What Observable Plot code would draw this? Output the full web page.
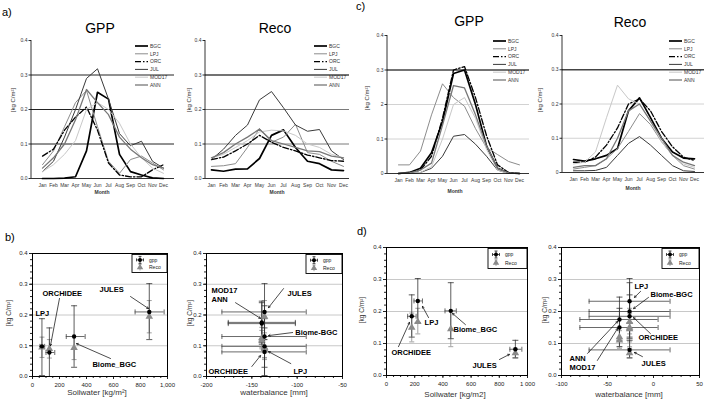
<!DOCTYPE html>
<html><head><meta charset="utf-8">
<script src="https://cdn.jsdelivr.net/npm/d3@7"></script>
<script src="https://cdn.jsdelivr.net/npm/@observablehq/plot@0.6"></script>
<style>
body{margin:0;background:#fff;font-family:'Liberation Sans',Arial,Helvetica,sans-serif}
#fig{position:relative;width:710px;height:400px;overflow:hidden;background:#fff}
#fig svg{position:absolute}
</style></head>
<body><div id="fig"></div>
<script>
// ---------- DATA ----------
const months = ["Jan","Feb","Mar","Apr","May","Jun","Jul","Aug","Sep","Oct","Nov","Dec"];
const models = ["BGC","LPJ","ORC","JUL","MOD17","ANN"];
// Panel a) GPP  (rows follow models order)
const aGpp = [
  [0.0,0.0,0.001,0.005,0.08,0.25,0.23,0.07,0.02,0.01,0.002,0.0],
  [0.04,0.08,0.15,0.22,0.255,0.15,0.05,0.015,0.055,0.065,0.045,0.025],
  [0.065,0.085,0.14,0.178,0.207,0.14,0.045,0.01,0.005,0.005,0.025,0.04],
  [0.02,0.05,0.12,0.2,0.29,0.318,0.23,0.13,0.095,0.108,0.05,0.03],
  [0.02,0.04,0.07,0.11,0.2,0.22,0.2,0.16,0.1,0.06,0.03,0.015],
  [0.03,0.06,0.1,0.17,0.258,0.22,0.185,0.12,0.085,0.06,0.04,0.03]
];
// Panel a) Reco
const aReco = [
  [0.025,0.021,0.027,0.028,0.058,0.125,0.141,0.09,0.05,0.043,0.025,0.023],
  [0.035,0.037,0.043,0.09,0.145,0.105,0.12,0.157,0.075,0.07,0.05,0.035],
  [0.055,0.062,0.08,0.1,0.125,0.105,0.09,0.08,0.068,0.06,0.052,0.05],
  [0.055,0.085,0.125,0.155,0.228,0.252,0.205,0.155,0.137,0.142,0.08,0.055],
  [0.06,0.07,0.09,0.11,0.135,0.14,0.138,0.125,0.1,0.09,0.07,0.06],
  [0.06,0.075,0.1,0.12,0.143,0.11,0.1,0.09,0.08,0.078,0.065,0.06]
];
// Panel c) GPP
const cGpp = [
  [0.0,0.003,0.015,0.06,0.15,0.29,0.3,0.2,0.08,0.015,0.002,0.0],
  [0.025,0.025,0.065,0.17,0.26,0.22,0.195,0.13,0.075,0.055,0.035,0.025],
  [0.0,0.002,0.01,0.05,0.16,0.3,0.31,0.22,0.11,0.025,0.003,0.0],
  [0.0,0.0,0.003,0.015,0.05,0.108,0.113,0.085,0.05,0.01,0.0,0.0],
  [0.0,0.0,0.003,0.02,0.1,0.2,0.22,0.16,0.07,0.01,0.0,0.0],
  [0.0,0.002,0.01,0.03,0.14,0.255,0.248,0.17,0.08,0.015,0.002,0.0]
];
// Panel c) Reco
const cReco = [
  [0.038,0.033,0.04,0.05,0.07,0.18,0.218,0.16,0.1,0.06,0.042,0.04],
  [0.01,0.015,0.02,0.04,0.07,0.12,0.172,0.14,0.09,0.05,0.02,0.01],
  [0.03,0.03,0.045,0.08,0.13,0.2,0.215,0.18,0.12,0.075,0.045,0.035],
  [0.005,0.005,0.006,0.015,0.05,0.085,0.105,0.08,0.05,0.02,0.005,0.003],
  [0.025,0.03,0.06,0.16,0.255,0.215,0.2,0.15,0.09,0.05,0.025,0.015],
  [0.015,0.02,0.02,0.04,0.1,0.18,0.2,0.15,0.1,0.05,0.03,0.02]
];
const aTickText = ["0.0","0.1","0.2","0.3","0.4"];
const cGppTickText = ["0","0.1","2","0.3","0.4"];
const cRecoTickText = ["0","0.1","0.2","0.3","0.4"];
const sTickText = ["0.0","0.1","0.2","0.3","0.4"];

// Panel b) soil water
const bSoilSite = ["LPJ","ORCHIDEE","Biome_BGC","JULES"];
const bSoilX = [70,125,308,865];
const bSoilXLo = [55,100,250,760];
const bSoilXHi = [90,165,390,975];
const bSoilGpp = [0.098,0.078,0.13,0.21];
const bSoilGppLo = [0.003,0.0,0.03,0.12];
const bSoilGppHi = [0.188,0.158,0.23,0.302];
const bSoilReco = [0.095,0.09,0.093,0.195];
const bSoilRecoLo = [0.062,0.06,0.055,0.142];
const bSoilRecoHi = [0.128,0.12,0.13,0.247];
// Panel b) water balance
const bWbSite = ["JULES","MOD17","ANN","Biome-BGC","LPJ","ORCHIDEE"];
const bWbX = [-136,-139,-139,-136,-136,-136];
const bWbXLo = [-183,-176,-176,-183,-183,-183];
const bWbXHi = [-90,-102,-102,-90,-90,-90];
const bWbGpp = [0.21,0.176,0.172,0.13,0.098,0.08];
const bWbGppLo = [0.12,0.11,0.105,0.03,0.003,0.0];
const bWbGppHi = [0.302,0.245,0.24,0.23,0.188,0.158];
const bWbReco = [0.195,0.118,0.125,0.093,0.095,0.09];
const bWbRecoLo = [0.142,0.09,0.095,0.055,0.062,0.06];
const bWbRecoHi = [0.247,0.15,0.16,0.13,0.128,0.12];
// Panel d) soil water
const dSoilSite = ["ORCHIDEE","LPJ","Biome_BGC","JULES"];
const dSoilX = [179,222,456,914];
const dSoilXLo = [150,195,415,875];
const dSoilXHi = [210,255,495,960];
const dSoilGpp = [0.185,0.233,0.202,0.082];
const dSoilGppLo = [0.12,0.165,0.115,0.055];
const dSoilGppHi = [0.252,0.303,0.29,0.11];
const dSoilReco = [0.15,0.168,0.145,0.07];
const dSoilRecoLo = [0.105,0.13,0.09,0.055];
const dSoilRecoHi = [0.195,0.21,0.2,0.085];
// Panel d) water balance
const dWbSite = ["LPJ","Biome-BGC","ORCHIDEE","ANN","MOD17","JULES"];
const dWbX = [-26,-26,-26,-37,-37,-26];
const dWbXLo = [-70,-70,-70,-80,-80,-70];
const dWbXHi = [18,18,18,5,5,18];
const dWbGpp = [0.232,0.2,0.185,0.175,0.15,0.08];
const dWbGppLo = [0.165,0.115,0.12,0.11,0.09,0.055];
const dWbGppHi = [0.303,0.29,0.252,0.245,0.21,0.11];
const dWbReco = [0.168,0.145,0.15,0.12,0.11,0.07];
const dWbRecoLo = [0.13,0.09,0.105,0.09,0.085,0.055];
const dWbRecoHi = [0.21,0.2,0.195,0.15,0.14,0.085];

// annotation labels (text, left x, y) and arrows (from -> to), in data units
const bSoilNotes = [{t:"LPJ",x:22,y:0.205},{t:"ORCHIDEE",x:74,y:0.27},{t:"JULES",x:496,y:0.283},{t:"Biome_BGC",x:444,y:0.039}];
const bSoilArrows = [{x1:200,y1:0.254,x2:133,y2:0.1},{x1:726,y1:0.26,x2:859,y2:0.221},{x1:578,y1:0.0585,x2:326,y2:0.107}];
const bWbNotes = [{t:"MOD17\nANN",x:-194.5,y:0.265},{t:"JULES",x:-110.7,y:0.27},{t:"Biome-BGC",x:-102,y:0.143},{t:"ORCHIDEE",x:-197.8,y:0.016},{t:"LPJ",x:-104,y:0.016}];
const bWbArrows = [{x1:-168,y1:0.24,x2:-140.4,y2:0.189},{x1:-115,y1:0.286,x2:-131.6,y2:0.224},{x1:-105,y1:0.143,x2:-131.6,y2:0.133},{x1:-150,y1:0.0325,x2:-140.4,y2:0.068},{x1:-107,y1:0.042,x2:-131.6,y2:0.081}];
const dSoilNotes = [{t:"LPJ",x:270,y:0.166},{t:"Biome_BGC",x:475,y:0.144},{t:"ORCHIDEE",x:35,y:0.072},{t:"JULES",x:610,y:0.034}];
const dSoilArrows = [{x1:298,y1:0.181,x2:255,y2:0.216},{x1:560,y1:0.159,x2:468,y2:0.194},{x1:85,y1:0.09,x2:163,y2:0.166},{x1:801,y1:0.05,x2:872,y2:0.066}];
const dWbNotes = [{t:"LPJ",x:-20.7,y:0.278},{t:"Biome-BGC",x:-3.3,y:0.253},{t:"ORCHIDEE",x:-16.3,y:0.119},{t:"ANN\nMOD17",x:-91.3,y:0.039},{t:"JULES",x:-13,y:0.0375}];
const dWbArrows = [{x1:-14,y1:0.263,x2:-20.7,y2:0.244},{x1:-5.4,y1:0.244,x2:-21.7,y2:0.209},{x1:-3.3,y1:0.131,x2:-21.7,y2:0.181},{x1:-71.7,y1:0.069,x2:-39,y2:0.169},{x1:-61,y1:0.047,x2:-39,y2:0.147},{x1:-12,y1:0.059,x2:-20.7,y2:0.072}];

// ---------- RENDER ----------
const fontFam = "'Liberation Sans', Arial, Helvetica, sans-serif";
const fig = document.getElementById("fig");

function addText(txt, x, y, o = {}) {
  const d = document.createElement("div");
  d.textContent = txt;
  Object.assign(d.style, {position:"absolute", left:x+"px", top:y+"px", whiteSpace:"nowrap", lineHeight:"1",
    fontSize:(o.size||10)+"px", fontWeight:o.bold?"bold":"normal", color:o.color||"#000"});
  let t = "translate(" + (o.anchor === "start" ? "0" : "-50%") + ",-50%)";
  if (o.rotate) t += " rotate(-90deg)";
  d.style.transform = t;
  fig.appendChild(d);
}
function place(svg, left, top) { svg.style.left = left+"px"; svg.style.top = top+"px"; fig.appendChild(svg); }

const lineStyle = {
  BGC:{stroke:"#000", strokeWidth:1.7},
  LPJ:{stroke:"#8c8c8c", strokeWidth:1},
  ORC:{stroke:"#000", strokeWidth:1.3, strokeDasharray:"6,2,1.5,2"},
  JUL:{stroke:"#3a3a3a", strokeWidth:1},
  MOD17:{stroke:"#c8c8c8", strokeWidth:1},
  ANN:{stroke:"#777", strokeWidth:1.3}
};

function linePanel(c) {
  const rows = models.flatMap((m,k) => c.series[k].map((v,i) => ({model:m, month:months[i], value:v})));
  const svg = Plot.plot({
    width:c.width, height:c.height, marginLeft:c.mL, marginRight:c.mR, marginTop:c.mT, marginBottom:c.mB,
    style:{fontFamily:fontFam, fontSize:"5px", color:"#333", background:"transparent", overflow:"visible"},
    x:{type:"point", domain:months, padding:0.5},
    y:{domain:[0,0.4]},
    marks:[
      ...c.grid.map(([v,col,w]) => Plot.ruleY([v], {stroke:col, strokeWidth:w})),
      ...models.map(m => Plot.line(rows.filter(r => r.model === m), {x:"month", y:"value", ...lineStyle[m]})),
      Plot.ruleY([0], {stroke:"#000", strokeWidth:0.8}),
      Plot.axisX({tickSize:0, tickPadding:5, label:null}),
      Plot.axisY({ticks:[0,0.1,0.2,0.3,0.4], tickFormat:d => c.tickText[Math.round(d*10)], tickSize:2.5, tickPadding:1.5, label:null})
    ]
  });
  const s = d3.select(svg);
  s.append("line").attr("x1",c.mL).attr("x2",c.mL).attr("y1",c.mT).attr("y2",c.height-c.mB).attr("stroke","#000").attr("stroke-width",0.8);
  const g = s.append("g").attr("font-family",fontFam).attr("font-size",5).attr("fill","#333").attr("text-anchor","start");
  models.forEach((m,i) => {
    const y = c.mT + 6 + i*7.8, x0 = c.mL + c.legX;
    const st = lineStyle[m];
    g.append("line").attr("x1",x0).attr("x2",x0+13).attr("y1",y).attr("y2",y)
      .attr("stroke",st.stroke).attr("stroke-width",st.strokeWidth).attr("stroke-dasharray",st.strokeDasharray||null);
    g.append("text").attr("x",x0+15).attr("y",y).attr("dy","0.35em").text(m);
  });
  place(svg, c.left, c.top);
}

const hcap = {draw(ctx,size){const r=Math.sqrt(size/Math.PI); ctx.moveTo(-r,0); ctx.lineTo(r,0);}};
const vcap = {draw(ctx,size){const r=Math.sqrt(size/Math.PI); ctx.moveTo(0,-r); ctx.lineTo(0,r);}};

function zip(site,x,xlo,xhi,gpp,gl,gh,reco,rl,rh) {
  return site.map((s,i) => ({site:s, x:x[i], xlo:xlo[i], xhi:xhi[i], gpp:gpp[i], gppLo:gl[i], gppHi:gh[i], reco:reco[i], recoLo:rl[i], recoHi:rh[i]}));
}

function scatterPanel(c) {
  const pts = c.pts;
  const recoCol = "#8a8a8a";
  const svg = Plot.plot({
    width:c.width, height:c.height, marginLeft:c.mL, marginRight:c.mR, marginTop:c.mT, marginBottom:c.mB,
    style:{fontFamily:fontFam, fontSize:"6px", color:"#222", background:"transparent", overflow:"visible"},
    x:{domain:c.xDomain},
    y:{domain:[0,0.4]},
    marks:[
      Plot.ruleY([0.1,0.2,0.3], {stroke:"#c8c8c8", strokeWidth:1}),
      Plot.ruleY(pts, {y:"gpp", x1:"xlo", x2:"xhi", stroke:"#444", strokeWidth:0.8}),
      Plot.dot(pts, {x:"xlo", y:"gpp", symbol:vcap, r:2.5, stroke:"#444", strokeWidth:0.8, fill:"none"}),
      Plot.dot(pts, {x:"xhi", y:"gpp", symbol:vcap, r:2.5, stroke:"#444", strokeWidth:0.8, fill:"none"}),
      Plot.ruleX(pts, {x:"x", y1:"recoLo", y2:"recoHi", stroke:recoCol, strokeWidth:0.8}),
      Plot.dot(pts, {x:"x", y:"recoLo", symbol:hcap, r:2.5, stroke:recoCol, strokeWidth:0.8, fill:"none"}),
      Plot.dot(pts, {x:"x", y:"recoHi", symbol:hcap, r:2.5, stroke:recoCol, strokeWidth:0.8, fill:"none"}),
      Plot.ruleX(pts, {x:"x", y1:"gppLo", y2:"gppHi", stroke:"#333", strokeWidth:0.8}),
      Plot.dot(pts, {x:"x", y:"gppLo", symbol:hcap, r:3, stroke:"#333", strokeWidth:0.8, fill:"none"}),
      Plot.dot(pts, {x:"x", y:"gppHi", symbol:hcap, r:3, stroke:"#333", strokeWidth:0.8, fill:"none"}),
      Plot.dot(pts, {x:"x", y:"reco", symbol:"triangle", r:2.8, fill:recoCol, stroke:"none"}),
      Plot.dot(pts, {x:"x", y:"gpp", r:2.2, fill:"#000", stroke:"none"}),
      Plot.arrow(c.arrows, {x1:"x1", y1:"y1", x2:"x2", y2:"y2", stroke:"#000", strokeWidth:0.7, headLength:4}),
      Plot.text(c.notes, {x:"x", y:"y", text:"t", textAnchor:"start", fontWeight:"bold", fontSize:7.5, fill:"#000", lineHeight:1.2}),
      Plot.axisX({ticks:c.xMinor, tickSize:2, tickFormat:() => "", label:null}),
      Plot.axisX({ticks:c.xTicks, tickSize:3, tickPadding:3, tickFormat:c.xFmt, label:null}),
      Plot.axisY({ticks:d3.range(0,0.401,0.02), tickSize:2, tickFormat:() => "", label:null}),
      Plot.axisY({ticks:[0,0.1,0.2,0.3,0.4], tickSize:3, tickPadding:2, tickFormat:d => sTickText[Math.round(d*10)], label:null}),
      Plot.frame({stroke:"#000", strokeWidth:1})
    ]
  });
  // legend box
  const s = d3.select(svg);
  const bw = c.legW, bh = c.legH;
  const x0 = c.width - c.mR - bw, y0 = c.mT + 1.5;
  const g = s.append("g").attr("font-family",fontFam).attr("font-size",5).attr("fill","#222").attr("text-anchor","start");
  g.append("rect").attr("x",x0).attr("y",y0).attr("width",bw).attr("height",bh).attr("fill","#fff").attr("stroke","#000").attr("stroke-width",0.9);
  const mx = x0 + 8, r1 = y0 + bh*0.3, r2 = y0 + bh*0.72;
  const ln = (a,b,cc,d,col) => g.append("line").attr("x1",a).attr("y1",b).attr("x2",cc).attr("y2",d).attr("stroke",col).attr("stroke-width",0.8);
  ln(mx, r2-3, mx, r2+3, recoCol); ln(mx-1.5, r2-3, mx+1.5, r2-3, recoCol);
  g.append("path").attr("d", d3.symbol(d3.symbolTriangle, 18)()).attr("transform",`translate(${mx},${r2})`).attr("fill",recoCol);
  ln(mx, r1-3.5, mx, r1+3.5, "#222"); ln(mx-3.5, r1, mx+3.5, r1, "#222");
  ln(mx-1.5, r1-3.5, mx+1.5, r1-3.5, "#222"); ln(mx-1.5, r1+3.5, mx+1.5, r1+3.5, "#222");
  ln(mx-3.5, r1-1.5, mx-3.5, r1+1.5, "#222"); ln(mx+3.5, r1-1.5, mx+3.5, r1+1.5, "#222");
  g.append("circle").attr("cx",mx).attr("cy",r1).attr("r",2).attr("fill","#000");
  g.append("text").attr("x",x0+17).attr("y",r1).attr("dy","0.35em").text("gpp");
  g.append("text").attr("x",x0+17).attr("y",r2).attr("dy","0.35em").text("Reco");
  place(svg, c.left, c.top);
}

// line panels
linePanel({series:aGpp, left:0, top:30, width:178, height:170, mL:31, mR:4, mT:10, mB:22, tickText:aTickText, legX:104,
  grid:[[0.1,"#222",1],[0.2,"#222",1],[0.3,"#222",1]]});
linePanel({series:aReco, left:174, top:30, width:178, height:170, mL:31, mR:3, mT:10, mB:22, tickText:aTickText, legX:109,
  grid:[[0.1,"#7a7a7a",1],[0.2,"#7a7a7a",1],[0.3,"#444",1.3]]});
linePanel({series:cGpp, left:356, top:25, width:177, height:170, mL:31, mR:4, mT:10, mB:22, tickText:cGppTickText, legX:106,
  grid:[[0.1,"#d2d2d2",1],[0.2,"#d2d2d2",1],[0.3,"#444",1.3]]});
linePanel({series:cReco, left:531, top:25, width:177, height:169, mL:31, mR:4, mT:10, mB:22, tickText:cRecoTickText, legX:107,
  grid:[[0.1,"#d2d2d2",1],[0.2,"#d2d2d2",1],[0.3,"#444",1.3]]});

// scatter panels
const fmtPlain = d => String(d);
scatterPanel({pts:zip(bSoilSite,bSoilX,bSoilXLo,bSoilXHi,bSoilGpp,bSoilGppLo,bSoilGppHi,bSoilReco,bSoilRecoLo,bSoilRecoHi),
  left:0, top:243, width:172, height:157, mL:32, mR:5, mT:10, mB:24, xDomain:[0,1000],
  xTicks:d3.range(0,1001,200), xMinor:d3.range(0,1001,50), xFmt:d => d === 1000 ? "1,000" : String(d),
  notes:bSoilNotes, arrows:bSoilArrows, legW:35, legH:18});
scatterPanel({pts:zip(bWbSite,bWbX,bWbXLo,bWbXHi,bWbGpp,bWbGppLo,bWbGppHi,bWbReco,bWbRecoLo,bWbRecoHi),
  left:174, top:243, width:172, height:157, mL:32, mR:4, mT:10, mB:24, xDomain:[-200,-50],
  xTicks:d3.range(-200,-49,50), xMinor:d3.range(-200,-49,10), xFmt:fmtPlain,
  notes:bWbNotes, arrows:bWbArrows, legW:36, legH:19});
scatterPanel({pts:zip(dSoilSite,dSoilX,dSoilXLo,dSoilXHi,dSoilGpp,dSoilGppLo,dSoilGppHi,dSoilReco,dSoilRecoLo,dSoilRecoHi),
  left:354, top:237, width:178, height:163, mL:32, mR:5, mT:10, mB:25, xDomain:[0,1000],
  xTicks:d3.range(0,1001,200), xMinor:d3.range(0,1001,50), xFmt:d => d === 1000 ? "1 000" : String(d),
  notes:dSoilNotes, arrows:dSoilArrows, legW:39, legH:20});
scatterPanel({pts:zip(dWbSite,dWbX,dWbXLo,dWbXHi,dWbGpp,dWbGppLo,dWbGppHi,dWbReco,dWbRecoLo,dWbRecoHi),
  left:529, top:237, width:175, height:163, mL:32, mR:5, mT:10, mB:25, xDomain:[-100,50],
  xTicks:d3.range(-100,51,50), xMinor:d3.range(-100,51,10), xFmt:fmtPlain,
  notes:dWbNotes, arrows:dWbArrows, legW:37, legH:20});

// panel letters, titles, axis labels
addText("a)", 2, 12, {size:11, anchor:"start"});
addText("c)", 356, 6, {size:11, anchor:"start"});
addText("b)", 5, 237, {size:11, anchor:"start"});
addText("d)", 357, 231, {size:11, anchor:"start"});
addText("GPP", 100, 28, {size:14});
addText("Reco", 275, 28, {size:14});
addText("GPP", 469, 21, {size:14});
addText("Reco", 630, 22, {size:14});
[[13,100],[189,100],[367,98],[540,100]].forEach(([x,y]) => addText("[kg C/m²]", x, y, {size:6, rotate:true, color:"#333"}));
[[102,192],[277,192],[455,191],[633,188]].forEach(([x,y]) => addText("Month", x, y, {size:5, bold:true, color:"#333"}));
[[9,313],[190,313],[362,310],[545,310]].forEach(([x,y]) => addText("[kg C/m²]", x, y, {size:6.5, rotate:true, color:"#333"}));
addText("Soilwater [kg/m²]", 97, 393, {size:8, color:"#333"});
addText("waterbalance [mm]", 274, 393, {size:8, color:"#333"});
addText("Soilwater [kg/m2]", 455, 395, {size:8, color:"#333"});
addText("waterbalance [mm]", 629, 395, {size:8, color:"#333"});
</script>
</body></html>
